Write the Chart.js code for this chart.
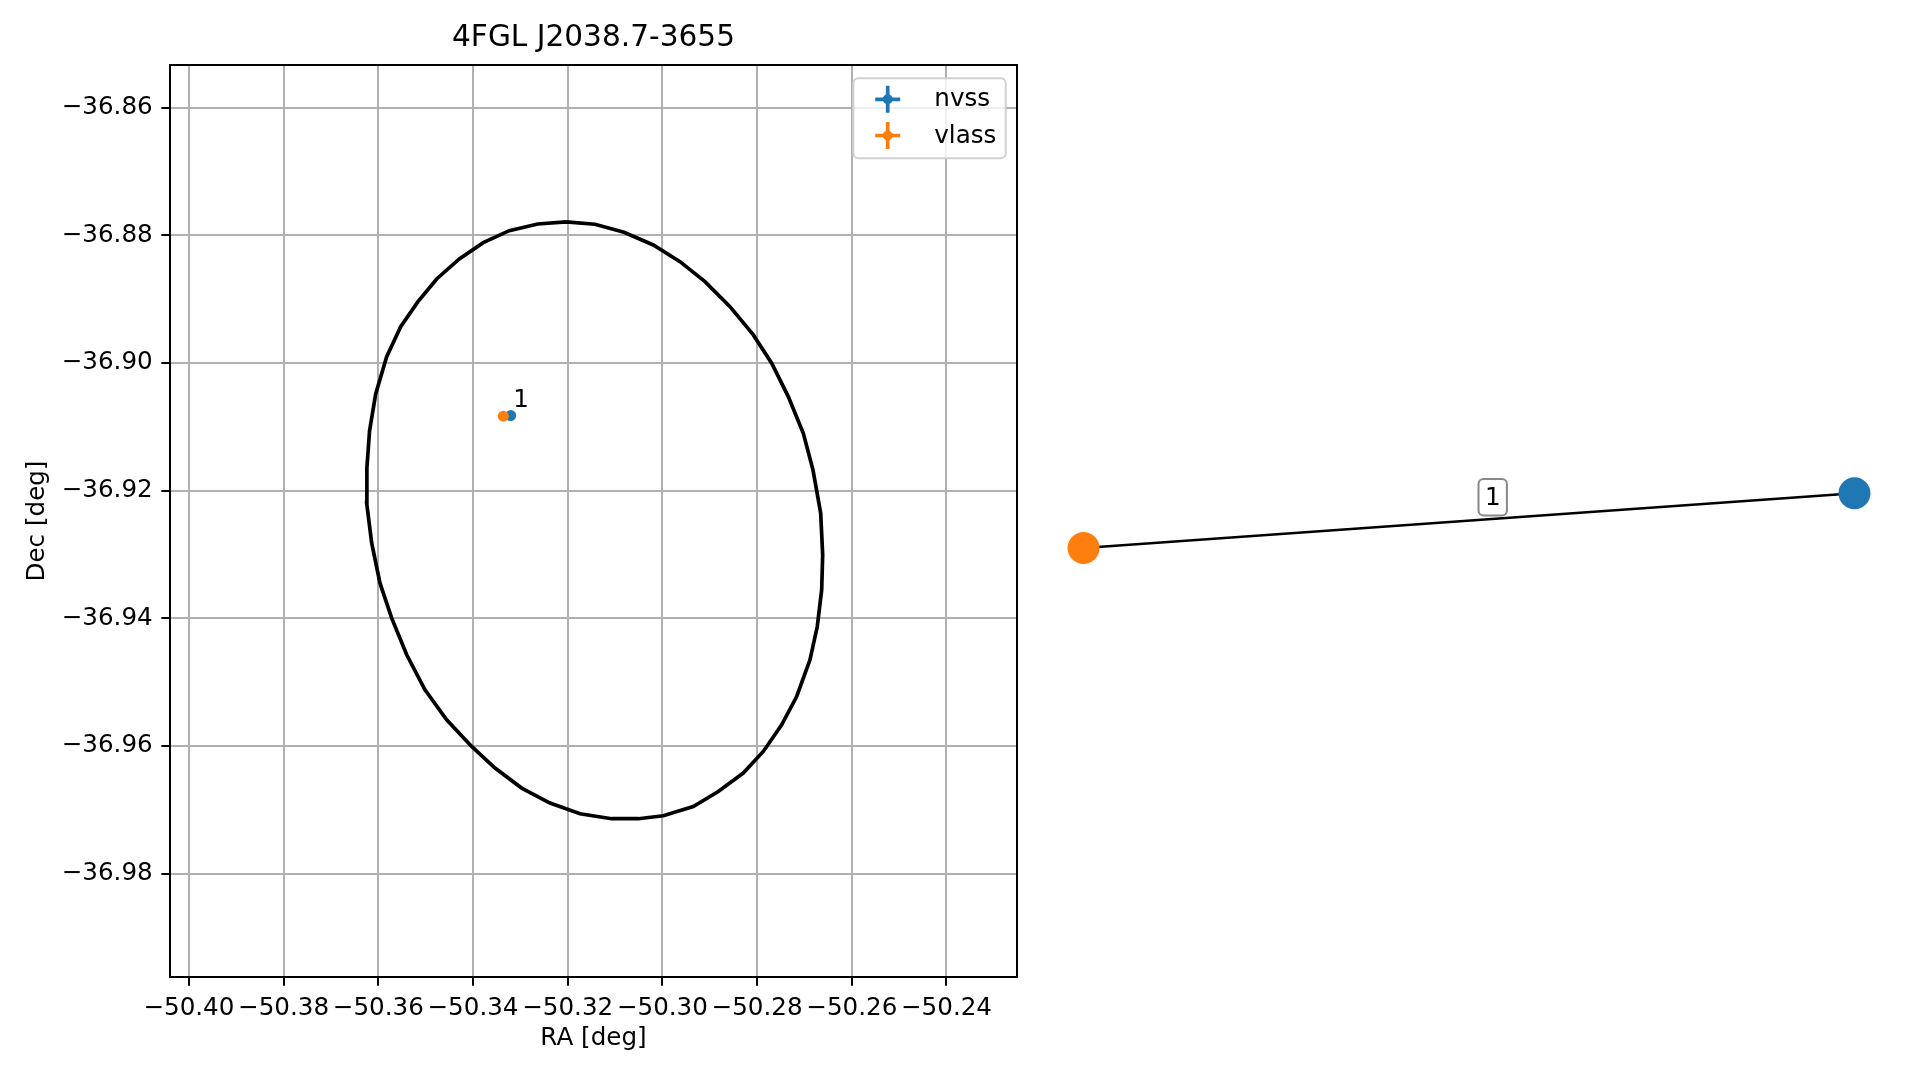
<!DOCTYPE html>
<html>
<head>
<meta charset="utf-8">
<script src="https://cdn.jsdelivr.net/npm/chart.js@4.4.0/dist/chart.umd.min.js"></script>
<style>
  html, body { margin: 0; padding: 0; background: #fff; }
  body { width: 1919px; height: 1080px; position: relative; overflow: hidden; }
  #skyChart { position: absolute; left: 0; top: 0; }
  #graphChart { position: absolute; left: 1045px; top: 65px; }
</style>
</head>
<body>
<canvas id="skyChart" width="1040" height="1080"></canvas>
<canvas id="graphChart" width="848" height="912"></canvas>
<script>
// Field title
const fieldName = '4FGL J2038.7-3655';

// Axis limits and ticks (deg)
const raMin = -50.40399, raMax = -50.22511;
const decMin = -36.99620, decMax = -36.85331;
const raTicks = [-50.40, -50.38, -50.36, -50.34, -50.32, -50.30, -50.28, -50.26, -50.24];
const decTicks = [-36.86, -36.88, -36.90, -36.92, -36.94, -36.96, -36.98];

// Radio counterparts
const sourceCatalogs = ['nvss', 'vlass'];
const sourceRa = [-50.33204, -50.33360];
const sourceDec = [-36.90824, -36.90833];
const matchLabels = ['1'];

// Gamma-ray error ellipse outline
const ellipseRa = [
  -50.32036, -50.31424, -50.30811, -50.30192, -50.29628, -50.29100, -50.28572, -50.28080,
  -50.27692, -50.27341, -50.27024, -50.26820, -50.26657, -50.26615, -50.26636, -50.26729,
  -50.26883, -50.27164, -50.27481, -50.27869, -50.28292, -50.28820, -50.29348, -50.29981,
  -50.30509, -50.31071, -50.31740, -50.32374, -50.32972, -50.33535, -50.34028, -50.34556,
  -50.35014, -50.35400, -50.35717, -50.35964, -50.36139, -50.36245, -50.36241, -50.36184,
  -50.36055, -50.35823, -50.35527, -50.35162, -50.34767, -50.34289, -50.33783, -50.33233,
  -50.32634, -50.32036
];
const ellipseDec = [
  -36.87790, -36.87826, -36.87952, -36.88150, -36.88412, -36.88725, -36.89117, -36.89560,
  -36.90003, -36.90526, -36.91100, -36.91674, -36.92353, -36.93006, -36.93554, -36.94129,
  -36.94650, -36.95225, -36.95668, -36.96086, -36.96425, -36.96713, -36.96948, -36.97093,
  -36.97140, -36.97140, -36.97062, -36.96895, -36.96660, -36.96346, -36.96008, -36.95590,
  -36.95120, -36.94572, -36.93997, -36.93449, -36.92822, -36.92196, -36.91643, -36.91060,
  -36.90484, -36.89900, -36.89430, -36.89038, -36.88683, -36.88370, -36.88114, -36.87926,
  -36.87822, -36.87790
];

// Match graph (layout coordinates)
const graphNodes = ['nvss', 'vlass'];
const graphNodeX = [1.0, -1.0];
const graphNodeY = [0.067, -0.065];
const graphEdges = [['vlass', 'nvss']];
const graphEdgeLabels = ['1'];
const edgeLabelX = [0.0615];
const edgeLabelY = [0.0572];

const FONT = "'DejaVu Sans', sans-serif";
const BLUE = '#1f77b4';
const ORANGE = '#ff7f0e';
const catalogColors = { nvss: BLUE, vlass: ORANGE };

Chart.defaults.font.family = FONT;
Chart.defaults.color = '#000';

const fmtTick = v => v.toFixed(2).replace('-', '\u2212');

// Frame, legend and match annotation for the sky plot
const skyDecorations = {
    id: 'skyDecorations',
    afterDatasetsDraw(chart) {
        const { ctx, chartArea: a, scales: { x, y } } = chart;
        ctx.save();

        // annotation next to the nvss position
        ctx.font = `24.6px ${FONT}`;
        ctx.fillStyle = '#000';
        ctx.textAlign = 'left';
        ctx.textBaseline = 'alphabetic';
        ctx.fillText(matchLabels[0], x.getPixelForValue(sourceRa[0]) + 2.5, y.getPixelForValue(sourceDec[0]) - 9);

        // axes frame
        ctx.strokeStyle = '#000';
        ctx.lineWidth = 2;
        ctx.strokeRect(Math.round(a.left), Math.round(a.top), Math.round(a.right - a.left), Math.round(a.bottom - a.top));

        // legend
        const w = 152.4, h = 80;
        const lx = a.right - 11.3 - w, ly = a.top + 13.3;
        ctx.beginPath();
        ctx.roundRect(lx, ly, w, h, 5);
        ctx.fillStyle = 'rgba(255,255,255,0.8)';
        ctx.fill();
        ctx.strokeStyle = '#d0d0d0';
        ctx.lineWidth = 2;
        ctx.stroke();

        sourceCatalogs.forEach((name, i) => {
            const cx = lx + 34.4, cy = ly + 21 + i * 36.2;
            ctx.strokeStyle = catalogColors[name];
            ctx.fillStyle = catalogColors[name];
            ctx.lineWidth = 3.7;
            ctx.beginPath();
            ctx.moveTo(cx - 12.5, cy); ctx.lineTo(cx + 12.5, cy);
            ctx.moveTo(cx, cy - 13.5); ctx.lineTo(cx, cy + 13.5);
            ctx.stroke();
            ctx.beginPath();
            ctx.arc(cx, cy, 5, 0, Math.PI * 2);
            ctx.fill();

            ctx.fillStyle = '#000';
            ctx.font = `24.6px ${FONT}`;
            ctx.textBaseline = 'alphabetic';
            ctx.fillText(name, lx + 81, ly + 27.7 + i * 36.7);
        });
        ctx.restore();
    }
};

const axisTitleFont = { family: FONT, size: 24.6 };

new Chart(document.getElementById('skyChart'), {
    type: 'scatter',
    data: {
        datasets: [
            {
                label: 'vlass',
                data: [{ x: sourceRa[1], y: sourceDec[1] }],
                backgroundColor: ORANGE,
                borderWidth: 0,
                pointRadius: 5.5,
                order: 0
            },
            {
                label: 'nvss',
                data: [{ x: sourceRa[0], y: sourceDec[0] }],
                backgroundColor: BLUE,
                borderWidth: 0,
                pointRadius: 5.5,
                order: 1
            },
            {
                label: 'ellipse',
                data: ellipseRa.map((ra, i) => ({ x: ra, y: ellipseDec[i] })),
                showLine: true,
                borderColor: '#000',
                borderWidth: 3.7,
                pointRadius: 0,
                pointHoverRadius: 0,
                tension: 0,
                fill: false,
                order: 2
            }
        ]
    },
    options: {
        responsive: false,
        animation: false,
        events: [],
        layout: { autoPadding: false, padding: { left: 0, right: 23, top: 0, bottom: 0 } },
        plugins: {
            legend: { display: false },
            tooltip: { enabled: false },
            title: {
                display: true,
                text: fieldName,
                fullSize: false,
                color: '#000',
                font: { family: FONT, size: 29.6, weight: 'normal' },
                padding: { top: 20.2, bottom: 9.3 }
            }
        },
        scales: {
            x: {
                type: 'linear',
                min: raMin,
                max: raMax,
                afterBuildTicks: s => { s.ticks = raTicks.map(v => ({ value: v })); },
                afterFit: s => { s.height = 103; },
                border: { display: false },
                grid: { color: '#b0b0b0', lineWidth: 2, tickColor: '#000', tickWidth: 2, tickLength: 8.7 },
                ticks: {
                    font: axisTitleFont,
                    color: '#000',
                    padding: 8.6,
                    autoSkip: false,
                    maxRotation: 0,
                    minRotation: 0,
                    callback: v => fmtTick(v)
                },
                title: { display: true, text: 'RA [deg]', font: axisTitleFont, color: '#000', padding: { top: 26.2, bottom: 26.2 } }
            },
            y: {
                type: 'linear',
                min: decMin,
                max: decMax,
                afterBuildTicks: s => { s.ticks = decTicks.map(v => ({ value: v })); },
                afterFit: s => { s.width = 170; },
                border: { display: false },
                grid: { color: '#b0b0b0', lineWidth: 2, tickColor: '#000', tickWidth: 2, tickLength: 8.7 },
                ticks: {
                    font: axisTitleFont,
                    color: '#000',
                    padding: 8.6,
                    autoSkip: false,
                    callback: v => fmtTick(v)
                },
                title: { display: true, text: 'Dec [deg]', font: axisTitleFont, color: '#000', padding: { top: 23.2, bottom: 23.2 } }
            }
        }
    },
    plugins: [skyDecorations]
});

// Edge label boxes for the match graph
const edgeLabelPlugin = {
    id: 'edgeLabels',
    afterDatasetsDraw(chart) {
        const { ctx, scales: { x, y } } = chart;
        ctx.save();
        graphEdgeLabels.forEach((lbl, i) => {
            const cx = x.getPixelForValue(edgeLabelX[i]);
            const cy = y.getPixelForValue(edgeLabelY[i]);
            ctx.beginPath();
            ctx.roundRect(cx - 14.2, cy - 18.2, 28.4, 36.4, 5);
            ctx.fillStyle = '#fff';
            ctx.fill();
            ctx.strokeStyle = '#888888';
            ctx.lineWidth = 2;
            ctx.stroke();
            ctx.fillStyle = '#000';
            ctx.font = `24.6px ${FONT}`;
            ctx.textAlign = 'center';
            ctx.textBaseline = 'middle';
            ctx.fillText(lbl, cx, cy + 1);
        });
        ctx.restore();
    }
};

const nodeIndex = name => graphNodes.indexOf(name);

new Chart(document.getElementById('graphChart'), {
    type: 'scatter',
    data: {
        datasets: [
            {
                label: 'nodes',
                data: graphNodes.map((n, i) => ({ x: graphNodeX[i], y: graphNodeY[i] })),
                backgroundColor: graphNodes.map(n => catalogColors[n]),
                borderWidth: 0,
                pointRadius: 16,
                order: 0
            },
            ...graphEdges.map(([a, b]) => ({
                label: a + '-' + b,
                data: [
                    { x: graphNodeX[nodeIndex(a)], y: graphNodeY[nodeIndex(a)] },
                    { x: graphNodeX[nodeIndex(b)], y: graphNodeY[nodeIndex(b)] }
                ],
                showLine: true,
                borderColor: '#000',
                borderWidth: 2.5,
                pointRadius: 0,
                pointHoverRadius: 0,
                order: 1
            }))
        ]
    },
    options: {
        responsive: false,
        animation: false,
        events: [],
        layout: { autoPadding: false, padding: 0 },
        plugins: { legend: { display: false }, tooltip: { enabled: false } },
        scales: {
            x: { type: 'linear', display: false, min: -1.1, max: 1.1 },
            y: { type: 'linear', display: false, min: -1.1, max: 1.1 }
        }
    },
    plugins: [edgeLabelPlugin]
});
</script>
</body>
</html>
